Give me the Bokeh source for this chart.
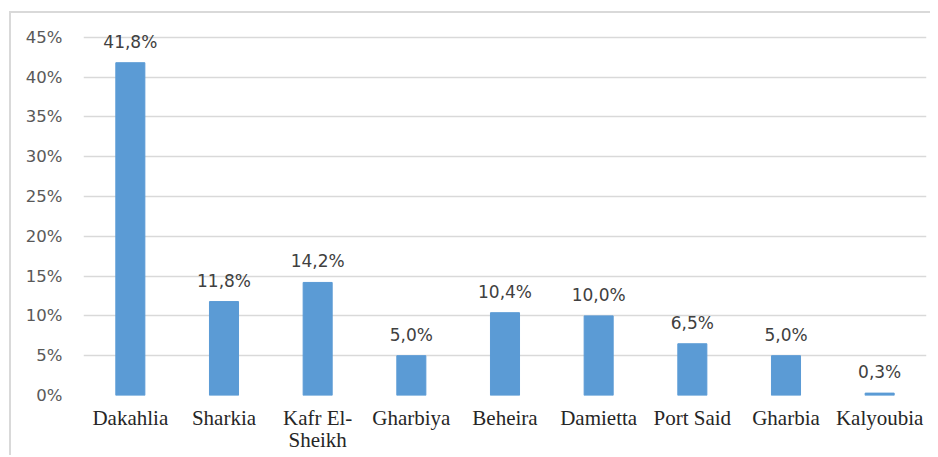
from bokeh.plotting import figure
from bokeh.models import Range1d, PrintfTickFormatter, ColumnDataSource, FixedTicker
from bokeh.embed import file_html
from bokeh.resources import INLINE
from bokeh.core.properties import value

regions = ["Dakahlia", "Sharkia", "Kafr El-\nSheikh", "Gharbiya", "Beheira", "Damietta", "Port Said", "Gharbia", "Kalyoubia"]
shares = [41.8, 11.8, 14.2, 5.0, 10.4, 10.0, 6.5, 5.0, 0.3]
y_ticks = [0, 5, 10, 15, 20, 25, 30, 35, 40, 45]
labels = [f"{v:.1f}".replace(".", ",") + "%" for v in shares]

src = ColumnDataSource(dict(x=regions, top=shares, label=labels))

p = figure(x_range=regions, y_range=Range1d(0, 46.6), frame_width=843, frame_height=371,
           output_backend="svg", toolbar_location=None,
           min_border_left=72, min_border_right=4, min_border_top=11, min_border_bottom=40)
p.margin = (11, 0, 0, 9)
p.styles = {"border-top": "2px solid #d9d9d9", "border-left": "2px solid #d9d9d9"}

p.vbar(x="x", top="top", width=0.31, source=src, color="#5B9BD5")
p.text(x="x", y="top", text="label", source=src, text_align="center", text_baseline="alphabetic",
       y_offset=-21, text_font=value("DejaVu Sans"), text_font_size="17px", text_color="#404040")

p.outline_line_color = None
p.xgrid.grid_line_color = None
p.ygrid.grid_line_color = "#d9d9d9"
p.ygrid.grid_line_width = 1.5
p.yaxis.ticker = FixedTicker(ticks=y_ticks)
p.yaxis.formatter = PrintfTickFormatter(format="%d%%")
p.yaxis.axis_line_color = None
p.yaxis.major_tick_line_color = None
p.yaxis.minor_tick_line_color = None
p.yaxis.major_label_text_font = "DejaVu Sans"
p.yaxis.major_label_text_font_size = "16.5px"
p.yaxis.major_label_text_color = "#595959"
p.yaxis.major_label_standoff = 15

p.xaxis.axis_line_color = None
p.xaxis.major_tick_line_color = None
p.xaxis.minor_tick_line_color = None
p.xaxis.major_label_text_font = "Liberation Serif"
p.xaxis.major_label_text_font_size = "21px"
p.xaxis.major_label_text_line_height = 0.95
p.xaxis.major_label_text_color = "#262626"
p.xaxis.major_label_standoff = 4

open("out.html", "w").write(file_html(p, INLINE))
